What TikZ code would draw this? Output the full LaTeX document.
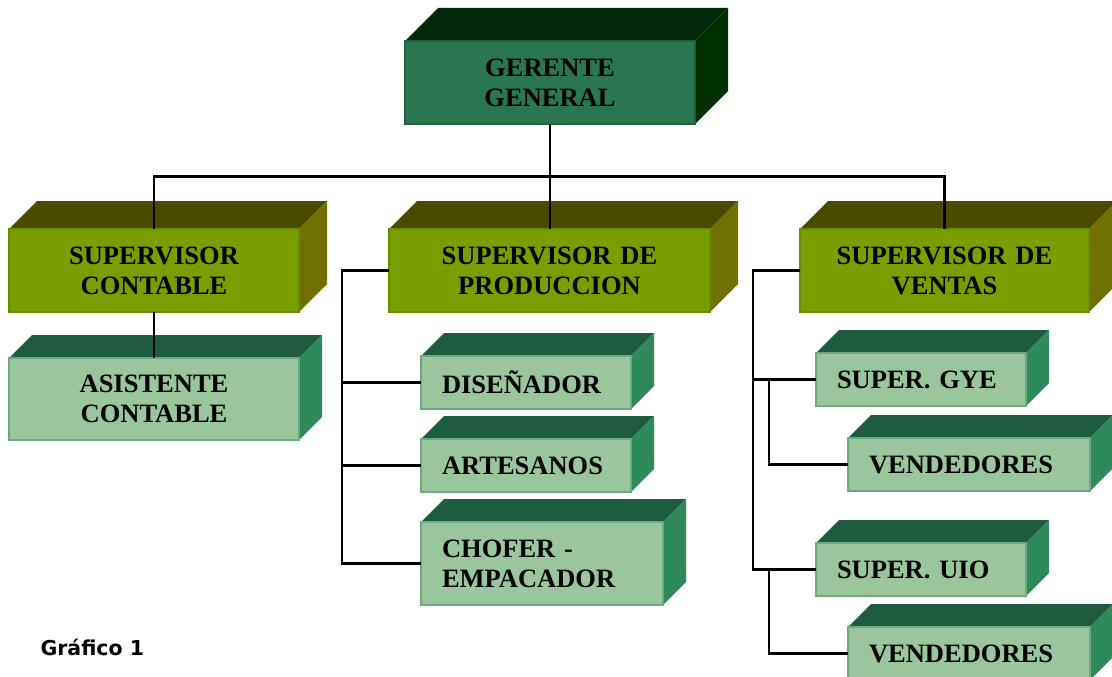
\documentclass[tikz,border=0pt]{standalone}
\usepackage{fontspec}
\setmainfont{Liberation Serif}
\newfontfamily\graficofont{DejaVu Sans}
\usetikzlibrary{positioning,calc,backgrounds}
\definecolor{jefefront}{HTML}{2A7650}
\definecolor{jefeedge}{HTML}{1F6040}
\definecolor{jefetop}{HTML}{02280A}
\definecolor{jefeside}{HTML}{003000}
\definecolor{superfront}{HTML}{789E00}
\definecolor{superedge}{HTML}{6A8C00}
\definecolor{supertop}{HTML}{4B4B00}
\definecolor{superside}{HTML}{707000}
\definecolor{stafffront}{HTML}{9BC59D}
\definecolor{staffedge}{HTML}{6EAA80}
\definecolor{stafftop}{HTML}{1F5B3E}
\definecolor{staffside}{HTML}{2E8A5C}
\tikzset{%
  cube/.style  = { fill = #1front, draw = #1edge, line width = 1.2pt, anchor = north west, inner sep = 0pt,
    outer sep = 0pt, align = center, minimum height = 83pt, font = \bfseries\fontsize{26.5}{30}\selectfont },
  lcube/.style = { cube = #1, align = left, inner xsep = 21pt, minimum height = 53pt },
  link/.style  = { draw = black, line width = 2.4pt },
}
% top and right faces of a box: node, depth, colour family
\newcommand{\caras}[3]{%
  \fill[#3top]  (#1.north west) -- ++(#2,#2) -- ($(#1.north east)+(#2,#2)$) -- (#1.north east) -- cycle;
  \fill[#3side] (#1.north east) -- ++(#2,#2) -- ($(#1.south east)+(#2,#2)$) -- (#1.south east) -- cycle;
}

\begin{document}
\begin{tikzpicture}[x=1pt, y=-1pt]
    \useasboundingbox (0,0) rectangle (1112,677);
    % nodes ----------------------------------------------------------------------------------------
    % head
    \node(gerente) [cube=jefe, text width=290pt] at (405,41) {GERENTE\\GENERAL};
    % supervisors
    \node(contable)   [cube=super, text width=290pt] at (9,229)   {SUPERVISOR\\CONTABLE};
    \node(produccion) [cube=super, text width=321pt] at (389,229) {SUPERVISOR DE\\PRODUCCION};
    \node(ventas)     [cube=super, text width=289pt] at (800,229) {SUPERVISOR DE\\VENTAS};
    % staff
    \node(asistente) [cube=staff, text width=290pt, minimum height=82pt, below = 46pt of contable] {ASISTENTE\\CONTABLE};
    \node(disenador) [lcube=staff, text width=168pt] at (421,356) {DISEÑADOR};
    \node(artesanos) [lcube=staff, text width=168pt, below = 30pt of disenador.south west, anchor=north west] {ARTESANOS};
    \node(chofer)    [lcube=staff, text width=200pt, minimum height=83pt, below = 30pt of artesanos.south west, anchor=north west] {CHOFER -\\EMPACADOR};
    \node(gye)   [lcube=staff, text width=168pt] at (816,353) {SUPER. GYE};
    \node(vend1) [lcube=staff, text width=200pt] at (848,438) {VENDEDORES};
    \node(uio)   [lcube=staff, text width=168pt] at (816,543) {SUPER. UIO};
    \node(vend2) [lcube=staff, text width=200pt] at (848,627) {VENDEDORES};
    % caption
    \node(grafico) [anchor=base west, font=\graficofont\bfseries\fontsize{20.5}{24}\selectfont] at (37,655) {Gráfico 1};
    % faces ----------------------------------------------------------------------------------------
    \begin{scope}[on background layer]
      \caras{gerente}{33pt}{jefe}
      \foreach \n in {contable,produccion,ventas} {\caras{\n}{28pt}{super}}
      \foreach \n in {asistente,disenador,artesanos,chofer,gye,vend1,uio,vend2} {\caras{\n}{23pt}{staff}}
    \end{scope}
    % lines ----------------------------------------------------------------------------------------
    \coordinate (barra) at ($(gerente.south)!0.5!(produccion.north)$);
    \draw[link] (gerente.south) -- (gerente.south |- produccion.north);
    \draw[link] (contable.north) |- (barra) -| (ventas.north);
    \draw[link] (contable.south) -- (asistente.north);
    % production
    \coordinate (pl) at ([xshift=-47pt]produccion.west);
    \draw[link] (produccion.west) -- (pl) |- (chofer.west);
    \draw[link] (pl |- disenador.west) -- (disenador.west);
    \draw[link] (pl |- artesanos.west) -- (artesanos.west);
    % sales
    \coordinate (vl) at ([xshift=-47pt]ventas.west);
    \coordinate (vi) at ([xshift=16pt]vl);
    \draw[link] (ventas.west) -- (vl) |- (uio.west);
    \draw[link] (vl |- gye.west) -- (gye.west);
    \draw[link] (vi |- gye.west) |- (vend1.west);
    \draw[link] (vi |- uio.west) |- (vend2.west);
\end{tikzpicture}
\end{document}
